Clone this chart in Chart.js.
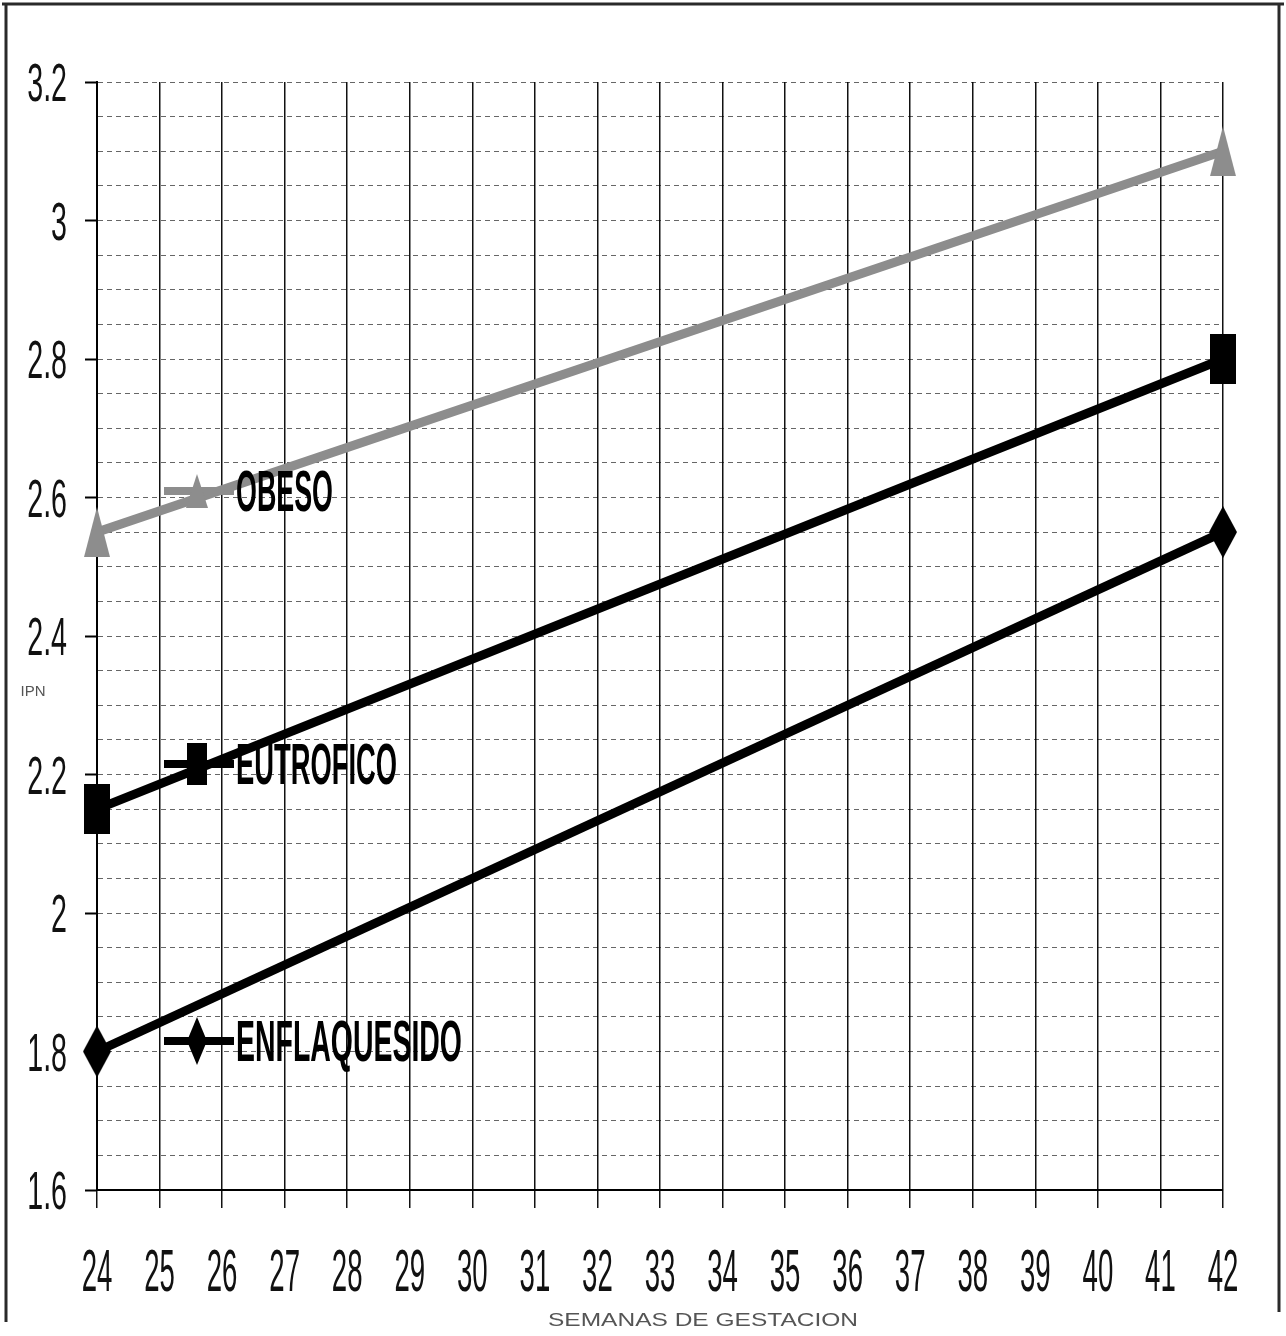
<!DOCTYPE html>
<html>
<head>
<meta charset="utf-8">
<script src="https://cdn.jsdelivr.net/npm/chart.js@4.4.1/dist/chart.umd.min.js"></script>
<style>
    html, body { margin: 0; padding: 0; background: #fff; }
    #wrap { width: 1286px; height: 1336px; }
</style>
</head>
<body>
<div id="wrap"><canvas id="ipnChart" width="1286" height="1336"></canvas></div>
<script>
// --- DATA ---
const semanas = [24, 25, 26, 27, 28, 29, 30, 31, 32, 33, 34, 35, 36, 37, 38, 39, 40, 41, 42];
const yTicks = [1.6, 1.8, 2, 2.2, 2.4, 2.6, 2.8, 3, 3.2];

const obesoX = [24, 42];
const obesoY = [2.55, 3.1];
const eutroficoX = [24, 42];
const eutroficoY = [2.15, 2.8];
const enflaqX = [24, 42];
const enflaqY = [1.8, 2.55];

const seriesNames = ['OBESO', 'EUTROFICO', 'ENFLAQUESIDO'];

// --- POINT SHAPES ---
function makeShape(w, h, color, kind) {
    const c = document.createElement('canvas');
    c.width = w; c.height = h;
    const g = c.getContext('2d');
    g.fillStyle = color;
    g.beginPath();
    if (kind === 'tri') {
        g.moveTo(w / 2, 0); g.lineTo(w, h); g.lineTo(0, h);
    } else if (kind === 'diamond') {
        g.moveTo(w / 2, 0); g.lineTo(w, h / 2); g.lineTo(w / 2, h); g.lineTo(0, h / 2);
    } else {
        g.rect(0, 0, w, h);
    }
    g.closePath();
    g.fill();
    return c;
}

const grayColor = '#8d8d8d';
const triImg = makeShape(26, 50, grayColor, 'tri');
const rectImg = makeShape(26, 50, '#000', 'rect');
const diamImg = makeShape(28, 52, '#000', 'diamond');

const toPoints = (xs, ys) => xs.map((x, i) => ({ x: x, y: ys[i] }));

// draw text squeezed horizontally
function drawSqueezed(ctx, text, x, y, sx, align) {
    ctx.save();
    ctx.translate(x, y);
    ctx.scale(sx, 1);
    ctx.textAlign = align;
    ctx.fillText(text, 0, 0);
    ctx.restore();
}

function fitText(ctx, text, x, y, width, align) {
    const w = ctx.measureText(text).width;
    drawSqueezed(ctx, text, x, y, width / w, align);
}

const isMajor = v => yTicks.some(t => Math.abs(t - v) < 1e-6);

// --- DECORATION PLUGIN ---
const decorPlugin = {
    id: 'decor',
    beforeDraw(chart) {
        const ctx = chart.ctx;
        ctx.save();
        ctx.fillStyle = '#fff';
        ctx.fillRect(0, 0, chart.width, chart.height);
        ctx.strokeStyle = '#2a2a2a';
        ctx.lineWidth = 3;
        ctx.beginPath();
        ctx.moveTo(2, 4); ctx.lineTo(1284, 4);
        ctx.moveTo(6, 4); ctx.lineTo(6, 1322);
        ctx.moveTo(1279, 4); ctx.lineTo(1279, 1312);
        ctx.stroke();
        ctx.restore();
    },
    afterDraw(chart) {
        const ctx = chart.ctx;
        const xs = chart.scales.x;
        const ys = chart.scales.y;
        ctx.save();
        ctx.fillStyle = '#111';

        // y tick labels
        ctx.font = '54px "Liberation Sans", Arial, sans-serif';
        ctx.textBaseline = 'alphabetic';
        yTicks.forEach(v => {
            const py = ys.getPixelForValue(v);
            drawSqueezed(ctx, String(v), 67, py + 19, 0.53, 'right');
        });

        // x tick labels
        ctx.font = '60px "Liberation Sans", Arial, sans-serif';
        semanas.forEach(v => {
            const px = xs.getPixelForValue(v);
            drawSqueezed(ctx, String(v), px, 1291, 0.46, 'center');
        });

        // axis titles
        ctx.fillStyle = '#555';
        ctx.font = '15px "Liberation Sans", Arial, sans-serif';
        ctx.textAlign = 'center';
        ctx.fillText('IPN', 33, 696);
        ctx.font = '19px "Liberation Sans", Arial, sans-serif';
        fitText(ctx, 'SEMANAS DE GESTACION', 703, 1326, 310, 'center');

        // inline legend
        const legend = [
            { name: seriesNames[0], y: 491, color: grayColor, img: makeShape(22, 34, grayColor, 'tri'), w: 97 },
            { name: seriesNames[1], y: 764, color: '#000', img: makeShape(20, 42, '#000', 'rect'), w: 161 },
            { name: seriesNames[2], y: 1041, color: '#000', img: makeShape(20, 48, '#000', 'diamond'), w: 226 }
        ];
        legend.forEach(l => {
            ctx.strokeStyle = l.color;
            ctx.lineWidth = 8;
            ctx.beginPath();
            ctx.moveTo(164, l.y); ctx.lineTo(234, l.y);
            ctx.stroke();
            ctx.drawImage(l.img, 197 - l.img.width / 2, l.y - l.img.height / 2);
            ctx.fillStyle = '#000';
            ctx.font = 'bold 58px "Liberation Sans", Arial, sans-serif';
            ctx.textBaseline = 'alphabetic';
            fitText(ctx, l.name, 236, l.y + 20, l.w, 'left');
        });
        ctx.restore();
    }
};

// --- CHART ---
const ctx = document.getElementById('ipnChart').getContext('2d');
new Chart(ctx, {
    type: 'line',
    data: {
        datasets: [
            {
                label: seriesNames[0],
                data: toPoints(obesoX, obesoY),
                borderColor: grayColor,
                borderWidth: 9,
                pointStyle: triImg,
                pointRadius: 14,
                clip: false
            },
            {
                label: seriesNames[1],
                data: toPoints(eutroficoX, eutroficoY),
                borderColor: '#000',
                borderWidth: 9,
                pointStyle: rectImg,
                pointRadius: 14,
                clip: false
            },
            {
                label: seriesNames[2],
                data: toPoints(enflaqX, enflaqY),
                borderColor: '#000',
                borderWidth: 9,
                pointStyle: diamImg,
                pointRadius: 14,
                clip: false
            }
        ]
    },
    options: {
        responsive: false,
        animation: false,
        devicePixelRatio: 1,
        layout: { padding: { top: 82, right: 63, left: 0, bottom: 0 } },
        plugins: {
            legend: { display: false },
            tooltip: { enabled: false }
        },
        scales: {
            x: {
                type: 'linear',
                min: 24,
                max: 42,
                afterFit: s => { s.height = 146; },
                ticks: { display: false, stepSize: 1 },
                grid: {
                    color: '#111',
                    lineWidth: 1.5,
                    tickLength: 18,
                    tickColor: '#111'
                },
                border: { color: '#000', width: 2 }
            },
            y: {
                min: 1.6,
                max: 3.2,
                afterFit: s => { s.width = 97; },
                ticks: { display: false, stepSize: 0.05 },
                grid: {
                    color: 'rgba(0,0,0,0.6)',
                    lineWidth: 1,
                    tickLength: 12,
                    tickColor: c => isMajor(c.tick.value) ? '#000' : 'rgba(0,0,0,0)',
                    tickWidth: 2,
                    tickBorderDash: []
                },
                border: { color: '#000', width: 2, dash: [5, 4] }
            }
        }
    },
    plugins: [decorPlugin]
});
</script>
</body>
</html>
